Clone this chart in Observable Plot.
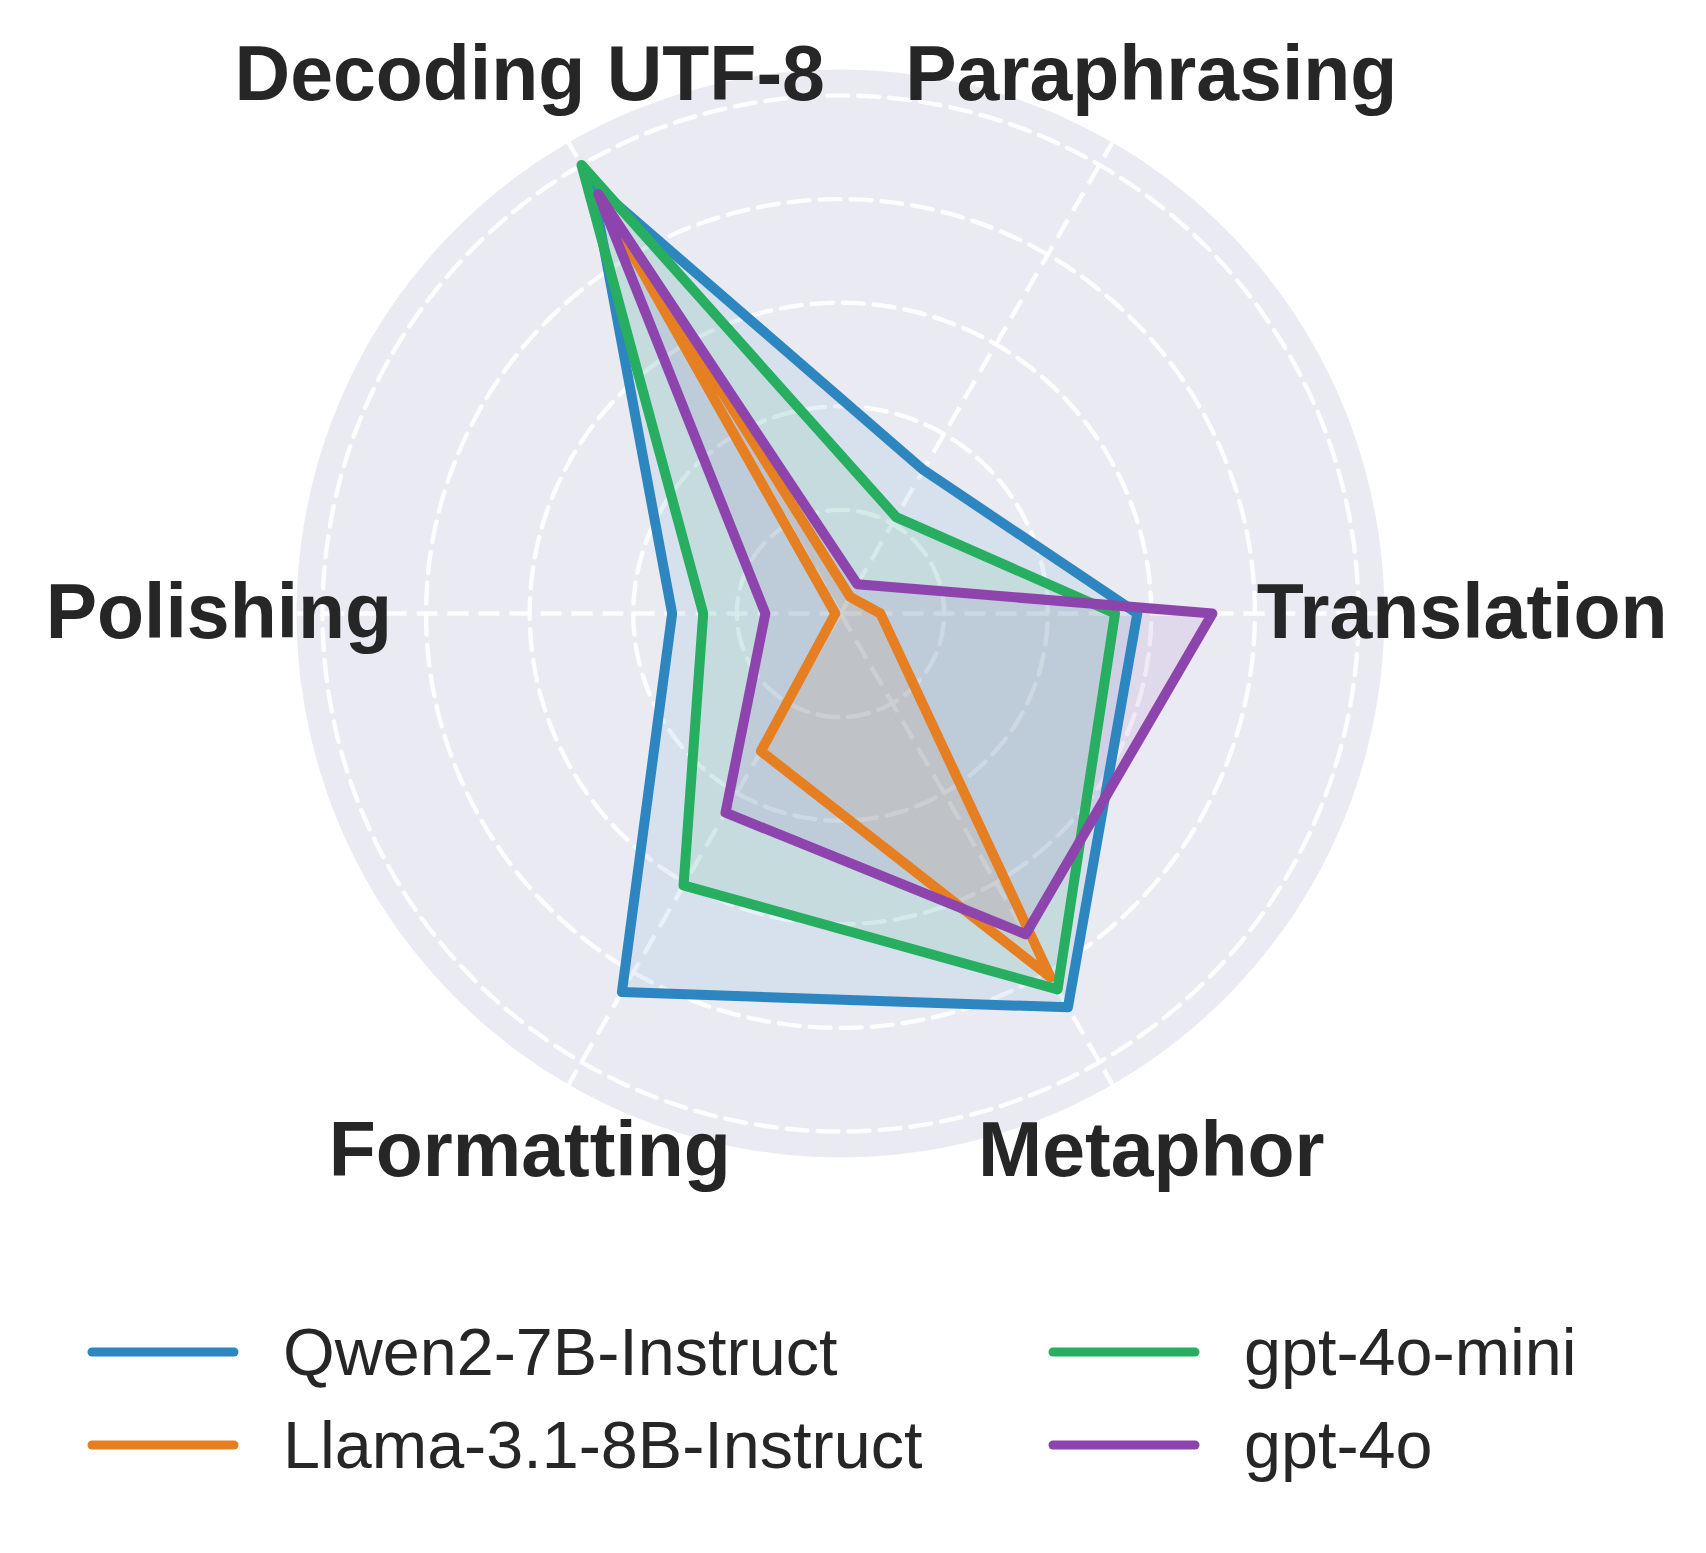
<!DOCTYPE html>
<html>
<head>
<meta charset="utf-8">
<script src="https://cdn.jsdelivr.net/npm/d3@7"></script>
<script src="https://cdn.jsdelivr.net/npm/@observablehq/plot@0.6"></script>
<style>
  html, body { margin: 0; padding: 0; background: #ffffff; }
  #wrap { position: relative; width: 1706px; height: 1553px; font-family: "Liberation Sans", Arial, sans-serif; }
  #chart { position: absolute; left: 0; top: 0; }
  .item { position: absolute; display: flex; align-items: center; height: 80px; }
  .item svg { flex: none; }
  .item span { font-size: 66.5px; color: #262626; white-space: nowrap; }
</style>
</head>
<body>
<div id="wrap"><div id="chart"></div></div>
<script>
// ---- data ----
const categories = ["Translation", "Paraphrasing", "Decoding UTF-8", "Polishing", "Formatting", "Metaphor"];
const seriesNames = ["Qwen2-7B-Instruct", "Llama-3.1-8B-Instruct", "gpt-4o-mini", "gpt-4o"];
const qwen      = [0.573, 0.320, 0.960, 0.325, 0.844, 0.878];
const llama     = [0.077, 0.037, 0.920, 0.010, 0.307, 0.811];
const gpt4oMini = [0.530, 0.215, 1.000, 0.265, 0.606, 0.838];
const gpt4o     = [0.718, 0.065, 0.935, 0.145, 0.444, 0.715];
const seriesColors = ["#2E86C1", "#E67E22", "#27AE60", "#8E44AD"];
const gridTicks = [0.2, 0.4, 0.6, 0.8, 1.0];
const rMax = 1.05;
const labelRadius = 1.2;

// ---- derived tables ----
const seriesValues = [qwen, llama, gpt4oMini, gpt4o];
const angleOf = i => (i * 2 * Math.PI) / categories.length;
const points = seriesNames.flatMap((name, s) =>
  seriesValues[s].map((v, i) => ({series: name, cat: categories[i], x: v * Math.cos(angleOf(i)), y: v * Math.sin(angleOf(i))}))
);
const circle = (r) => d3.range(0, 360, 1).map(a => ({r, x: r * Math.cos(a * Math.PI / 180), y: r * Math.sin(a * Math.PI / 180)}));
const disc = circle(rMax);
const rings = gridTicks.flatMap(r => circle(r));
const spokes = categories.map((c, i) => ({x2: rMax * Math.cos(angleOf(i)), y2: rMax * Math.sin(angleOf(i))}));
const labels = categories.map((c, i) => ({text: c, x: labelRadius * Math.cos(angleOf(i)), y: labelRadius * Math.sin(angleOf(i))}));

const cx = 840, cy = 613, unit = 518;
const chart = Plot.plot({
  width: 1706,
  height: 1290,
  margin: 0,
  style: {background: "transparent", fontFamily: "Liberation Sans, Arial, sans-serif"},
  x: {domain: [-rMax, rMax], range: [cx - rMax * unit, cx + rMax * unit], axis: null},
  y: {domain: [-rMax, rMax], range: [cy + rMax * unit, cy - rMax * unit], axis: null},
  color: {domain: seriesNames, range: seriesColors},
  marks: [
    Plot.line(disc, {x: "x", y: "y", fill: "#EAEAF2", stroke: "none", curve: "linear-closed"}),
    Plot.line(rings, {x: "x", y: "y", z: "r", stroke: "white", strokeOpacity: 0.9, strokeWidth: 4.4, strokeDasharray: "21,10", curve: "linear-closed"}),
    Plot.link(spokes, {x1: () => 0, y1: () => 0, x2: "x2", y2: "y2", stroke: "white", strokeOpacity: 0.9, strokeWidth: 4.4, strokeDasharray: "21,10"}),
    Plot.line(points, {x: "x", y: "y", z: "series", fill: "series", fillOpacity: 0.1, stroke: "none", curve: "linear-closed"}),
    Plot.line(points, {x: "x", y: "y", z: "series", stroke: "series", strokeWidth: 10, strokeLinejoin: "round", curve: "linear-closed"}),
    Plot.text(labels, {x: "x", y: "y", text: "text", fontSize: 77, fontWeight: "bold", fill: "#262626", textAnchor: "middle", lineAnchor: "middle"})
  ]
});
document.getElementById("chart").appendChild(chart);

// ---- legend (HTML, below the SVG) ----
const wrap = document.getElementById("wrap");
const legendCols = [92, 1053];
const legendRows = [1352, 1445];
seriesNames.forEach((name, i) => {
  const col = Math.floor(i / 2), row = i % 2;
  const item = document.createElement("div");
  item.className = "item";
  item.style.left = (legendCols[col] - 5) + "px";
  item.style.top = (legendRows[row] - 40) + "px";
  item.innerHTML = `<svg width="152" height="20"><line x1="5" y1="10" x2="147" y2="10" stroke="${seriesColors[i]}" stroke-width="9" stroke-linecap="round"/></svg><span style="margin-left:44px">${name}</span>`;
  wrap.appendChild(item);
});
</script>
</body>
</html>
